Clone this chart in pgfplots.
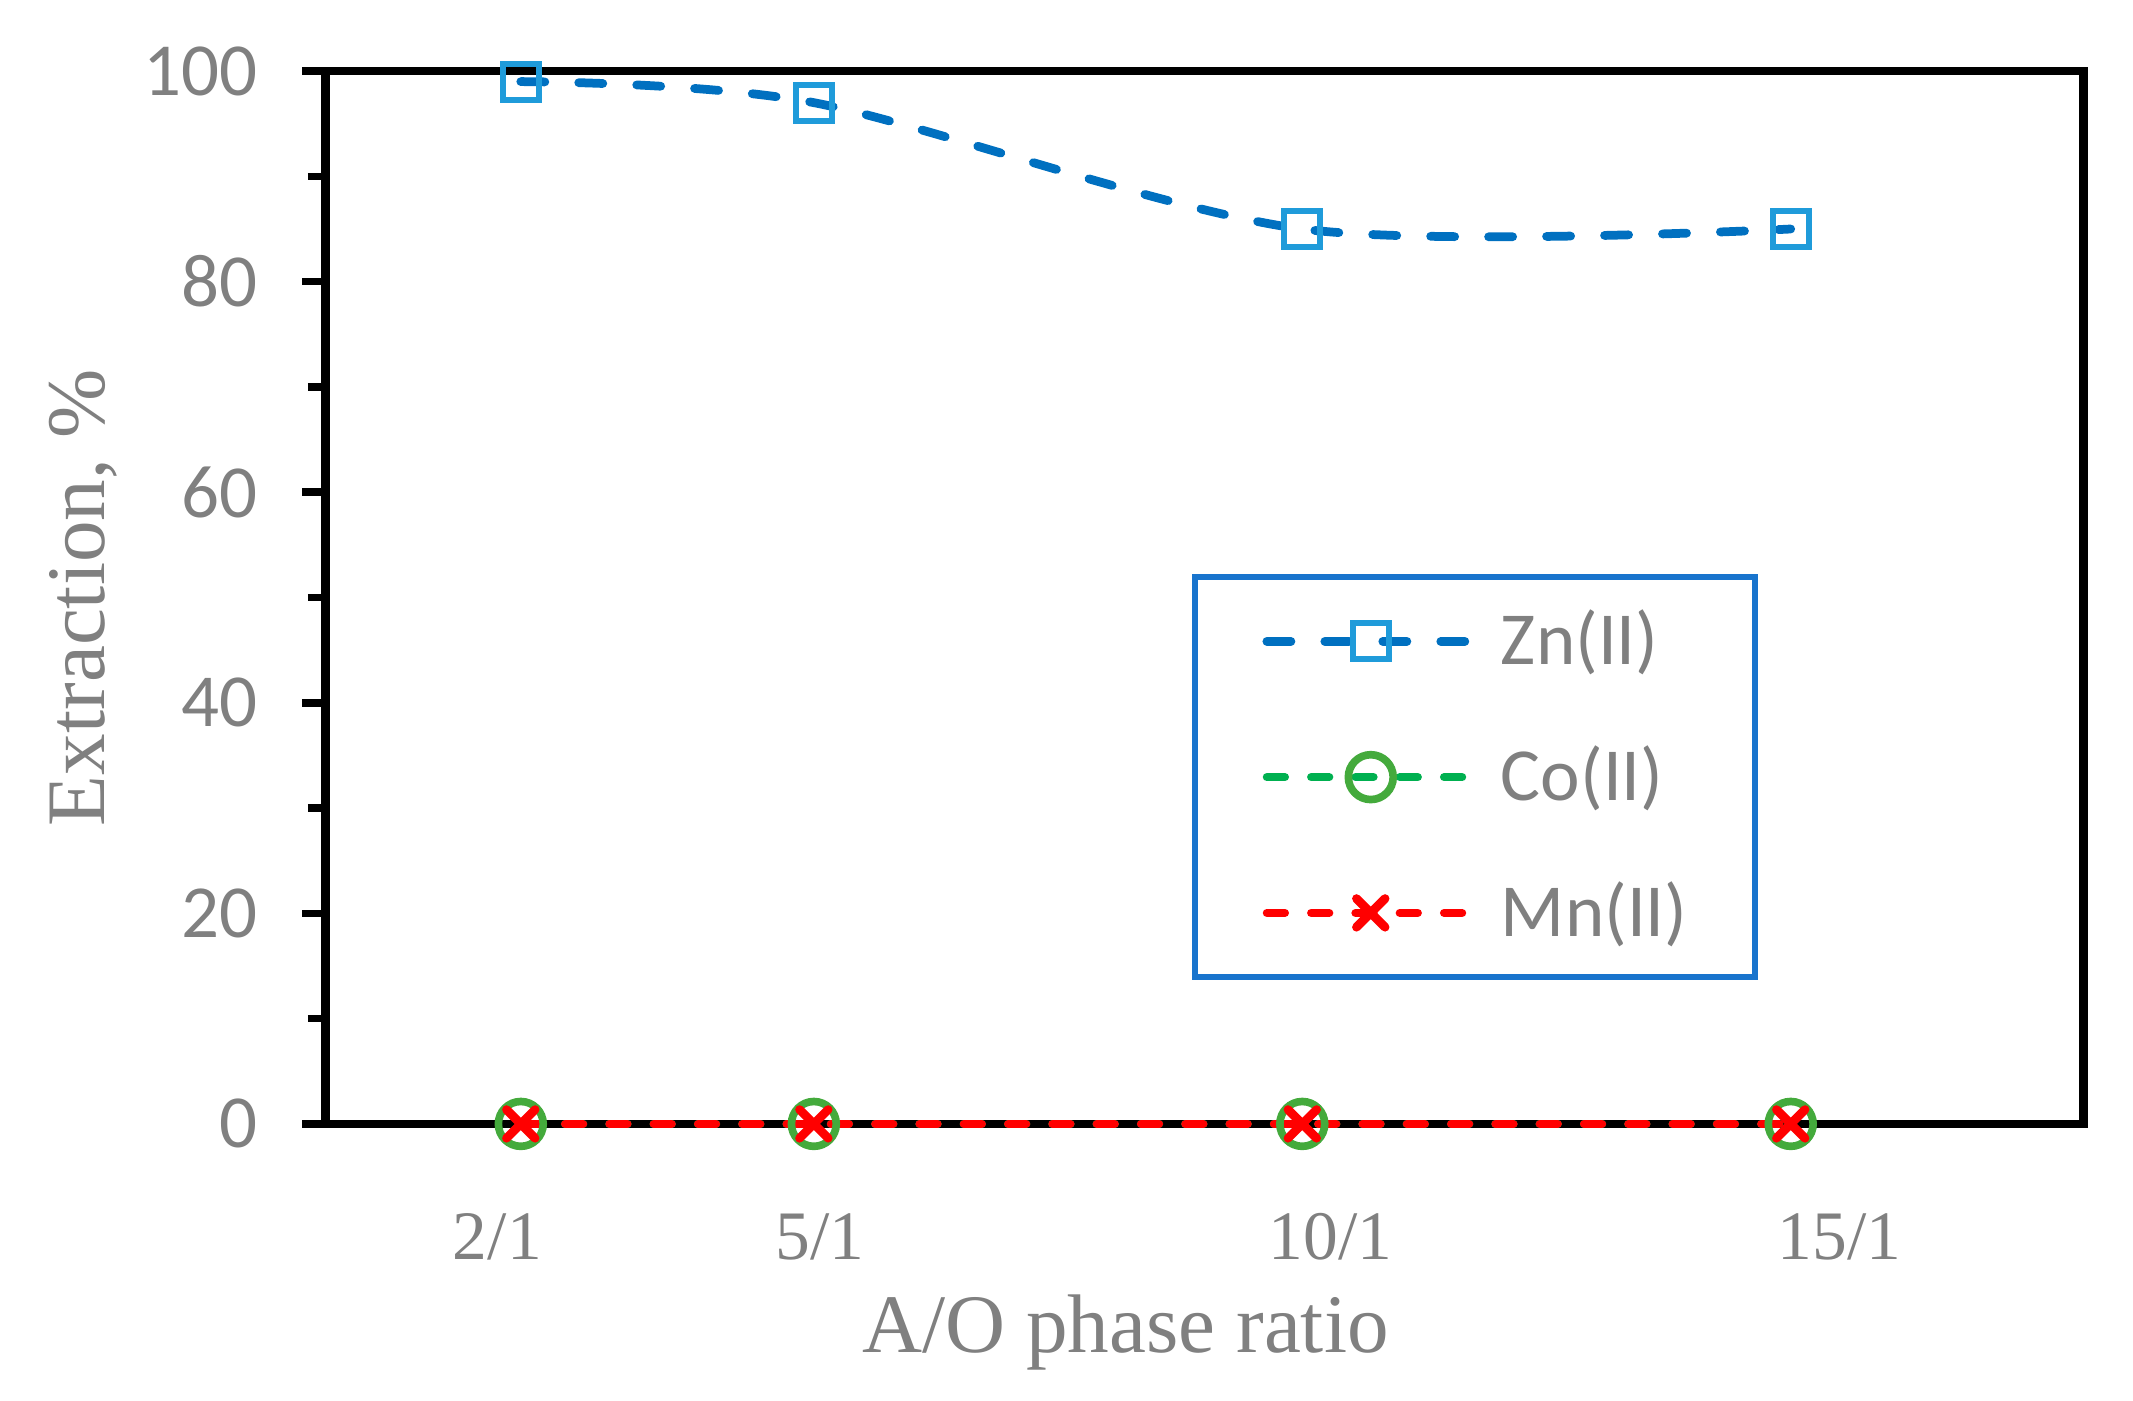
\documentclass[border=0pt]{standalone}
\usepackage{fontspec}
\setmainfont{Liberation Serif}
\newfontfamily\carlito{Carlito}
\usepackage{pgfplots}
\pgfplotsset{compat=1.18}
\definecolor{txtgray}{HTML}{808080}
\definecolor{znline}{HTML}{0070C0}
\definecolor{znmark}{HTML}{1F9BDA}
\definecolor{coline}{HTML}{00B050}
\definecolor{comark}{HTML}{44AA3C}
\definecolor{mnline}{HTML}{FF0000}
\definecolor{legblue}{HTML}{1874CD}
\begin{document}
\begin{tikzpicture}
\path[use as bounding box] (-59.5pt,-50.5pt) rectangle (330.5pt,205.5pt);
\begin{axis}[
  at={(0,0)}, anchor=south west,
  scale only axis, width=321.5pt, height=192.5pt,
  xmin=0, xmax=18, ymin=0, ymax=100,
  clip=false,
  axis line style={line width=1.6pt, black},
  xtick=\empty,
  minor xtick={0,1,...,18},
  extra x ticks={1.76,5.06,10.29,15.5},
  extra x tick labels={2/1,5/1,10/1,15/1},
  extra x tick style={major tick length=0pt, xticklabel style={anchor=base, inner sep=0pt, yshift=-24.7pt, font=\fontsize{12.7}{15}\selectfont, text=txtgray}},
  ytick={0,20,...,100},
  minor ytick={10,30,...,90},
  tick align=outside,
  xtick pos=bottom, ytick pos=left,
  major tick length=4.2pt, minor tick length=3.2pt,
  every tick/.style={black, line width=1.4pt},
  yticklabel style={anchor=east, inner sep=0pt, xshift=-8.05pt, font=\carlito\fontsize{13.7}{15}\selectfont, text=txtgray, /pgf/number format/assume math mode=true},
  xlabel={A/O phase ratio},
  ylabel={Extraction, \%},
  xlabel style={at={(axis description cs:0.455,-0.2175)}, anchor=base, font=\fontsize{15.2}{18}\selectfont, text=txtgray},
  ylabel style={at={(axis description cs:-0.1255,0.5)}, anchor=base, rotate=0, font=\fontsize{15.2}{18}\selectfont, text=txtgray},
  legend style={at={(0.4931,0.522)}, anchor=north west, draw=legblue, line width=1pt, fill=white,
    inner xsep=12.3pt, inner ysep=6pt, row sep=13.3pt,
    nodes={inner sep=0pt},
    font=\carlito\fontsize{13.7}{15}\selectfont, text=txtgray,
    /tikz/every odd column/.append style={column sep=4pt}},
  legend cell align=left,
  legend image code/.code={\draw[mark repeat=2,mark phase=2,#1] plot coordinates {(0pt,0pt) (19pt,0pt) (38pt,0pt)};},
]
\addplot[znline, line width=1.6pt, dash pattern=on 4.4pt off 6.2pt, line cap=round, smooth,
  mark=square, mark size=3.3pt, mark options={solid, draw=znmark, line width=1.1pt}]
  coordinates {(2,99) (5,97) (10,85) (15,85)};
\addlegendentry{Zn(II)}
\addplot[coline, line width=1.5pt, dash pattern=on 3.3pt off 4.8pt, line cap=round,
  mark=o, mark size=4.1pt, mark options={solid, draw=comark, line width=1.4pt}]
  coordinates {(2,0) (5,0) (10,0) (15,0)};
\addlegendentry{Co(II)}
\addplot[mnline, line width=1.5pt, dash pattern=on 3.3pt off 4.8pt, line cap=round,
  mark=x, mark size=3.7pt, mark options={solid, draw=mnline, line width=1.6pt}]
  coordinates {(2,0) (5,0) (10,0) (15,0)};
\addlegendentry{Mn(II)}
\end{axis}
\end{tikzpicture}
\end{document}
